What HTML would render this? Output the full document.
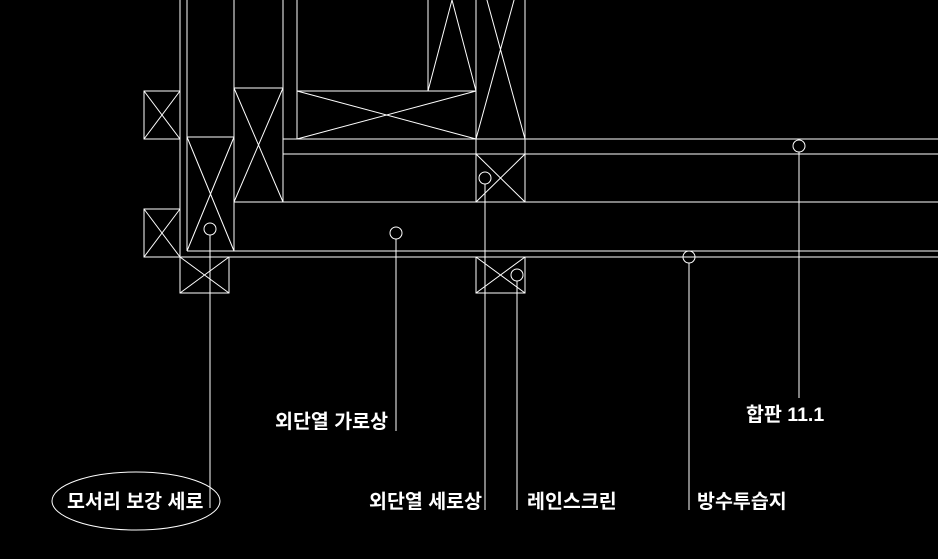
<!DOCTYPE html>
<html><head><meta charset="utf-8"><style>
html,body{margin:0;padding:0;background:#000;}
svg{display:block}
text{font-family:"Liberation Sans","Noto Sans CJK KR","NanumGothic",sans-serif;font-size:19.5px;font-weight:bold;fill:#fff}
</style></head><body>
<svg width="938" height="559" viewBox="0 0 938 559" xmlns="http://www.w3.org/2000/svg">
<g stroke="#fff" stroke-width="1" fill="none" shape-rendering="crispEdges">
<line x1="180" y1="0" x2="180" y2="257"/>
<line x1="187" y1="0" x2="187" y2="251"/>
<line x1="234" y1="0" x2="234" y2="251"/>
<line x1="283" y1="0" x2="283" y2="202"/>
<line x1="297" y1="0" x2="297" y2="139"/>
<line x1="428" y1="0" x2="428" y2="91"/>
<line x1="476" y1="0" x2="476" y2="202"/>
<line x1="525" y1="0" x2="525" y2="202"/>
<line x1="297" y1="91" x2="476" y2="91"/>
<line x1="234" y1="88" x2="283" y2="88"/>
<line x1="187" y1="137" x2="234" y2="137"/>
<line x1="283" y1="139" x2="938" y2="139"/>
<line x1="283" y1="154" x2="938" y2="154"/>
<line x1="234" y1="202" x2="938" y2="202"/>
<line x1="187" y1="251" x2="938" y2="251"/>
<line x1="144" y1="257" x2="938" y2="257"/>
<rect x="144" y="91" width="36" height="48"/>
<rect x="144" y="209" width="36" height="48"/>
<rect x="180" y="257" width="49" height="36"/>
<rect x="476" y="257" width="49" height="36"/>
</g>
<g stroke="#fff" stroke-width="1" fill="none">
<path d="M144 91L180 139M180 91L144 139"/>
<path d="M144 209L180 257M180 209L144 257"/>
<path d="M187 137L234 251M234 137L187 251"/>
<path d="M234 88L283 202M283 88L234 202"/>
<path d="M297 91L476 139M476 91L297 139"/>
<path d="M428 91L452 0L476 91"/>
<path d="M476 139L525 -40M525 139L476 -40"/>
<path d="M476 154L525 202M525 154L476 202"/>
<path d="M180 257L229 293M229 257L180 293"/>
<path d="M476 257L525 293M525 257L476 293"/>
<circle cx="210" cy="229" r="6"/><line x1="210" y1="235" x2="210" y2="508"/>
<circle cx="396" cy="233" r="6"/><line x1="396" y1="239" x2="396" y2="431"/>
<circle cx="485" cy="178" r="6"/><line x1="485" y1="184" x2="485" y2="510"/>
<circle cx="517" cy="275" r="6"/><line x1="517" y1="281" x2="517" y2="510"/>
<circle cx="689" cy="257" r="6"/><line x1="689" y1="263" x2="689" y2="510"/>
<circle cx="799" cy="146" r="6"/><line x1="799" y1="152" x2="799" y2="398"/>
<ellipse cx="136" cy="501" rx="84" ry="29"/>
</g>
<text x="275" y="428">외단열 가로상</text>
<text x="67" y="508">모서리 보강 세로</text>
<text x="369" y="508">외단열 세로상</text>
<text x="527" y="508">레인스크린</text>
<text x="697" y="508">방수투습지</text>
<text x="746" y="421">합판 11.1</text>
</svg>
</body></html>
